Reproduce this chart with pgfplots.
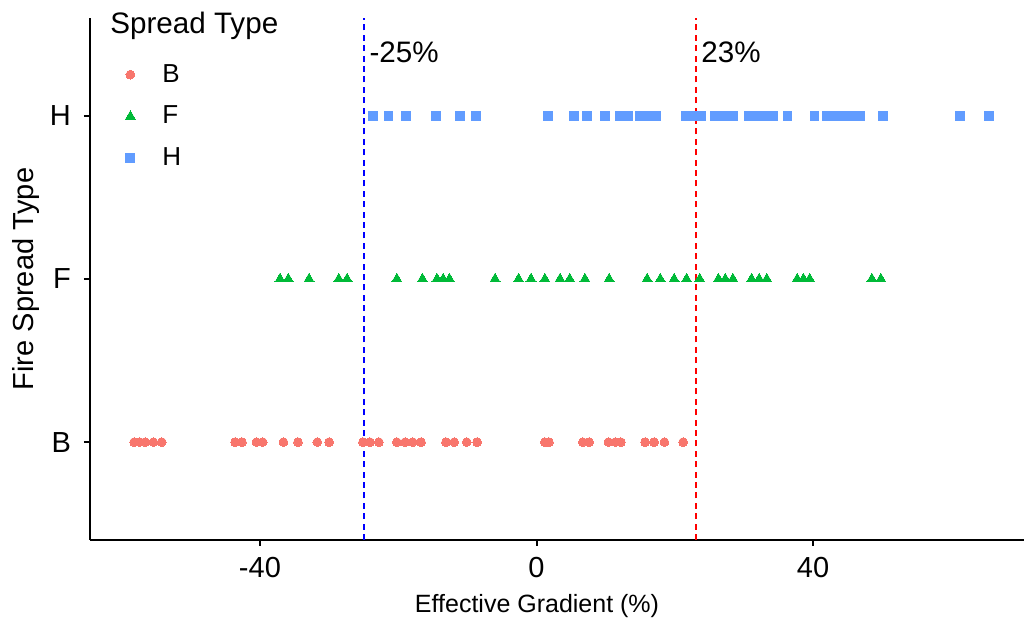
\documentclass[border=0pt]{standalone}
\usepackage{pgfplots}
\pgfplotsset{compat=1.18}
\usepackage{fontspec}
\setmainfont{Liberation Sans}

\definecolor{colB}{HTML}{F8766D}
\definecolor{colF}{HTML}{00BA38}
\definecolor{colH}{HTML}{619CFF}
\definecolor{refblue}{HTML}{0000FF}
\definecolor{refred}{HTML}{FF0000}

\begin{document}
\begin{tikzpicture}
\begin{axis}[
  at={(45pt,43pt)}, anchor=south west,
  scale only axis, width=467pt, height=261pt,
  xmin=-64.58, xmax=70.5, ymin=0.4, ymax=3.6,
  axis x line*=bottom, axis y line*=left,
  axis line style={line width=1pt, -},
  xtick={-40,0,40}, xticklabels={-40,0,40},
  ytick={1,2,3}, yticklabels={B,F,H},
  tick style={line width=1pt, black},
  tick align=outside, major tick length=3pt,
  minor tick num=0,
  ticklabel style={font=\fontsize{14.5}{16}\selectfont},
  xticklabel style={yshift=-2pt},
  yticklabel style={xshift=-3pt},
  xlabel={Effective Gradient (\%)},
  ylabel={Fire Spread Type},
  xlabel style={font=\fontsize{12.5}{15}\selectfont,
    at={(axis description cs:0.4786,0)}, anchor=center, yshift=-33pt},
  ylabel style={font=\fontsize{14.5}{17}\selectfont,
    at={(axis description cs:0,0.5)}, anchor=center, yshift=32pt},
  clip=false,
  legend style={draw=none, fill=none, inner sep=0pt,
    at={(axis description cs:0.0257,0.920)}, anchor=north west,
    font=\fontsize{13}{15}\selectfont, row sep=6.5pt},
  legend cell align=left,
  legend image code/.code={
    \path[draw=none, fill=none] (0pt,0pt) -- (22pt,0pt);
    \path[#1, draw=none] plot[only marks] coordinates {(8pt,0pt)};},
]
% reference lines at -25% and 23%
\addplot[color=refblue, line width=1pt, dash pattern=on 3pt off 2.2pt, forget plot]
  coordinates {(-25,0.4) (-25,3.6)};
\addplot[color=refred, line width=1pt, dash pattern=on 3pt off 2.2pt, forget plot]
  coordinates {(23,0.4) (23,3.6)};

% B: backing spread
\addplot[only marks, mark=*, mark size=2.2pt, colB, mark options={draw=colB, fill=colB, line width=0pt}]
  table[y expr=1] {
x
-58.2
-57.4
-56.6
-55.4
-54.2
-43.6
-42.6
-40.5
-39.6
-36.6
-34.5
-31.7
-30.0
-25.1
-24.1
-22.8
-20.2
-19.0
-17.9
-16.7
-13.1
-11.9
-10.1
-8.6
1.2
1.8
6.7
7.6
10.4
11.4
12.2
15.7
17.0
18.5
21.2
};
\addlegendentry{B}

% F: flanking spread
\addplot[only marks, mark=triangle*, mark size=2.9pt, colF, mark options={draw=colF, fill=colF, line width=0pt}]
  table[y expr=2] {
x
-37.1
-35.9
-32.9
-28.6
-27.4
-20.2
-16.5
-14.4
-13.5
-12.6
-6.0
-2.6
-0.8
1.2
3.4
4.8
7.0
10.5
16.0
17.9
19.9
21.7
23.6
26.3
27.3
28.4
31.1
32.2
33.3
37.7
38.6
39.5
48.5
49.8
};
\addlegendentry{F}

% H: head fire spread
\addplot[only marks, mark=square*, mark size=2.2pt, colH, mark options={draw=colH, fill=colH, line width=0pt}]
  table[y expr=3] {
x
-23.6
-21.4
-18.9
-14.5
-11.1
-8.8
1.7
5.4
7.3
9.9
12.1
13.3
14.9
16.2
17.3
21.6
22.8
23.8
25.8
27.1
28.5
30.7
31.9
33.1
34.2
36.3
40.2
42.0
43.2
44.4
45.6
46.8
50.1
61.2
65.4
};
\addlegendentry{H}

\node[anchor=west, inner sep=0pt, font=\fontsize{14.8}{17}\selectfont]
  at (axis cs:-24.2,3.39) {-25\%};
\node[anchor=west, inner sep=0pt, font=\fontsize{14.8}{17}\selectfont]
  at (axis cs:23.8,3.39) {23\%};
\node[anchor=west, inner sep=0pt, font=\fontsize{14.8}{17}\selectfont]
  at (axis description cs:0.0214,0.985) {Spread Type};
\end{axis}
\pgfresetboundingbox
\path[use as bounding box] (0,0) rectangle (512pt,313pt);
\end{tikzpicture}
\end{document}
